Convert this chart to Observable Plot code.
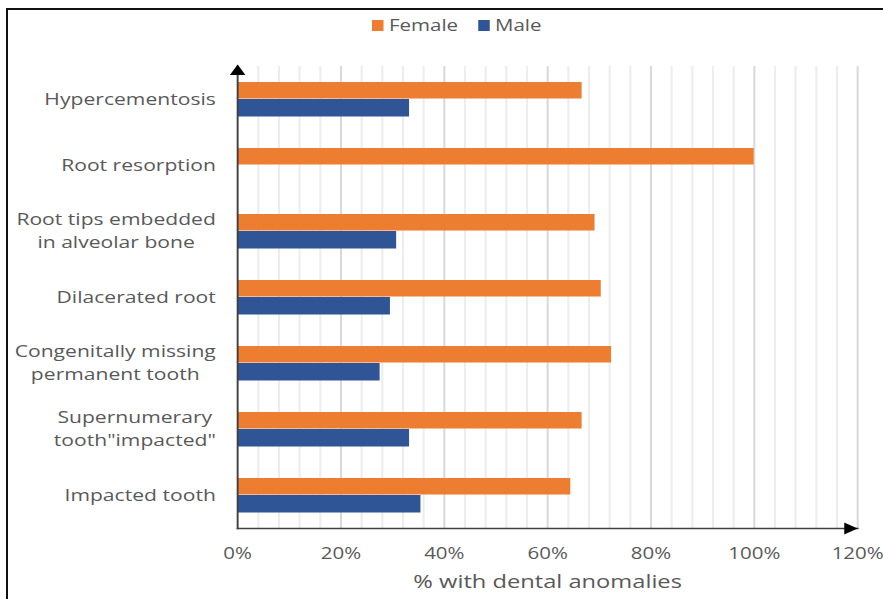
<!DOCTYPE html>
<html>
<head>
<meta charset="utf-8">
<script src="https://cdn.jsdelivr.net/npm/d3@7"></script>
<script src="https://cdn.jsdelivr.net/npm/@observablehq/plot@0.6"></script>
<style>
  html, body { margin: 0; padding: 0; background: #fff; }
  #page { position: relative; width: 883px; height: 599px; overflow: hidden; font-family: "Open Sans", sans-serif; }
  #frame { position: absolute; left: 6px; top: 8px; right: -10px; bottom: -10px;
           border-top: 2.5px solid #111; border-left: 2.5px solid #111; }
  #legend { position: absolute; left: 372px; top: 13px; transform: scaleX(1.28); transform-origin: 0 0;
            display: flex; align-items: center; font-size: 16px; line-height: 24px; color: #595959; white-space: nowrap; }
  #legend .item { display: flex; align-items: center; margin-right: 15.6px; }
  #legend .sw { display: inline-block; width: 9.4px; height: 11px; margin-right: 3.9px; }
  #chart { position: absolute; left: 0; top: 40px; }
</style>
</head>
<body>
<div id="page">
  <div id="frame"></div>
  <div id="legend"></div>
  <div id="chart"></div>
</div>
<script>
// Share of cases with each dental anomaly, by sex (percent)
const categories = [
  "Hypercementosis",
  "Root resorption",
  "Root tips embedded in alveolar bone",
  "Dilacerated root",
  "Congenitally missing permanent tooth",
  "Supernumerary tooth\"impacted\"",
  "Impacted tooth"
];
const categoryLabels = [
  "Hypercementosis",
  "Root resorption",
  "Root tips embedded\nin alveolar bone",
  "Dilacerated root",
  "Congenitally missing\npermanent tooth",
  "Supernumerary\ntooth\"impacted\"",
  "Impacted tooth"
];
const female = [66.7, 100, 69.2, 70.4, 72.4, 66.7, 64.5];
const male   = [33.3, 0, 30.8, 29.6, 27.6, 33.3, 35.5];
const seriesNames = ["Female", "Male"];
const seriesColors = ["#ED7D31", "#2F5597"];
const xTicks = [0, 20, 40, 60, 80, 100, 120];
const xMinorStep = 4;
const xTitle = "% with dental anomalies";

// Layout: drawn in a narrower coordinate system and widened to the page
const pageWidth = 883;
const W = 690, H = 559;
const textColor = "#595959";
const labelSize = 16.5;

const rows = categories.map((c, i) => ({category: c, female: female[i], male: male[i]}));
const xMax = xTicks[xTicks.length - 1];
const minorTicks = d3.range(xTicks[0], xMax + 1e-9, xMinorStep).filter(v => !xTicks.includes(v));

// measure the widest line of each category label to center multi-line blocks
const ctx = document.createElement("canvas").getContext("2d");
ctx.font = `${labelSize}px "Open Sans"`;
const blockWidth = s => Math.max(...s.split("\n").map(l => ctx.measureText(l).width));

const labelGap = 17;

const chart = Plot.plot({
  width: W,
  height: H,
  marginTop: 26,
  marginBottom: 71,
  marginLeft: 185.2,
  marginRight: 20.3,
  style: {fontFamily: '"Open Sans", sans-serif', fontSize: "16px", color: textColor, background: "transparent"},
  x: {domain: [0, xMax], axis: null},
  y: {domain: categories, padding: 0, axis: null},
  marks: [
    Plot.ruleX(minorTicks, {stroke: "#EDEDED", strokeWidth: 1.6}),
    Plot.ruleX(xTicks.slice(1), {stroke: "#D9D9D9", strokeWidth: 1.6}),
    Plot.barX(rows, {y: "category", x: "female", fill: seriesColors[0], insetTop: 16, insetBottom: 33.5}),
    Plot.barX(rows, {y: "category", x: "male", fill: seriesColors[1], insetTop: 33, insetBottom: 15.5}),
    Plot.frame({anchor: "bottom", stroke: "#404040", strokeWidth: 1.5}),
    Plot.frame({anchor: "left", stroke: "#404040", strokeWidth: 1.5}),
    // arrowheads at the ends of both axes
    Plot.dot([xMax], {x: d => d, frameAnchor: "bottom", symbol: "triangle", r: 4.5, rotate: 90, fill: "#000", stroke: "none", dx: -7}),
    Plot.dot([0], {x: d => d, frameAnchor: "top", symbol: "triangle", r: 4.5, fill: "#000", stroke: "none", dy: 5}),
    Plot.axisX(xTicks, {tickSize: 0, tickPadding: 19, tickFormat: d => d + "%", label: null, fill: textColor}),
    Plot.text([xTitle], {text: d => d, frameAnchor: "bottom", dy: 59, fontSize: 18.5, fill: textColor}),
    ...categories.map((c, i) => Plot.text([c], {
      y: d => d,
      text: () => categoryLabels[i],
      frameAnchor: "left",
      textAnchor: "middle",
      dx: -(labelGap + blockWidth(categoryLabels[i]) / 2),
      dy: -2,
      fontSize: labelSize,
      lineHeight: 1.4,
      fill: textColor
    }))
  ]
});
chart.setAttribute("width", pageWidth);
chart.setAttribute("height", H);
chart.setAttribute("preserveAspectRatio", "none");
chart.style.maxWidth = "none";
chart.style.height = H + "px";
chart.style.width = pageWidth + "px";
document.getElementById("chart").appendChild(chart);

// legend
const legend = document.getElementById("legend");
seriesNames.forEach((name, i) => {
  const item = document.createElement("span");
  item.className = "item";
  const sw = document.createElement("span");
  sw.className = "sw";
  sw.style.background = seriesColors[i];
  item.appendChild(sw);
  item.appendChild(document.createTextNode(name));
  legend.appendChild(item);
});
</script>
</body>
</html>
